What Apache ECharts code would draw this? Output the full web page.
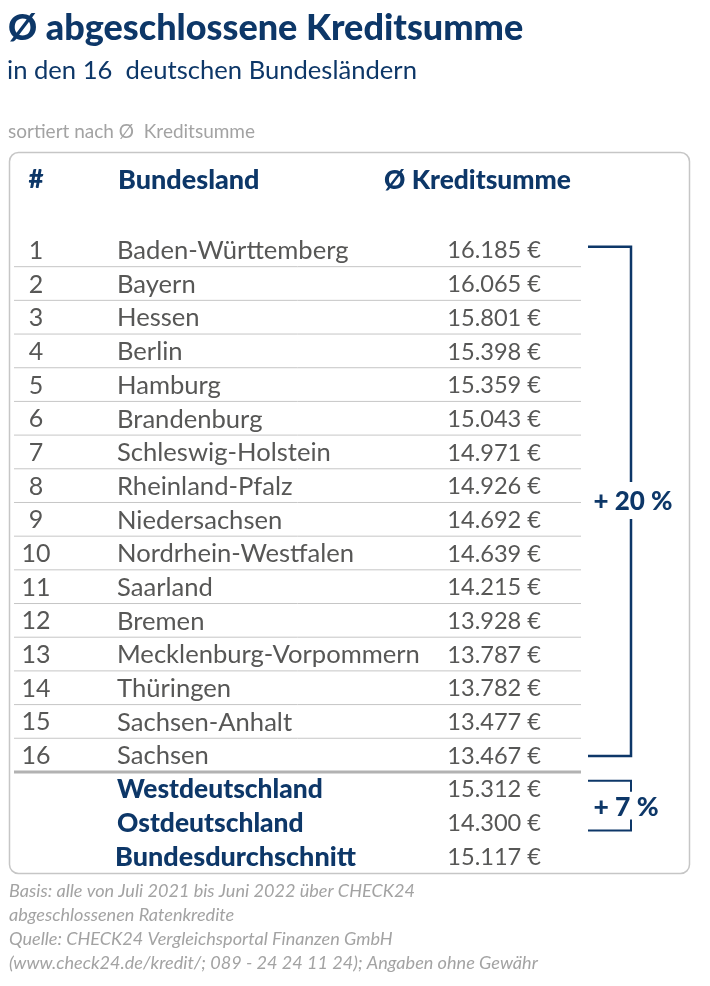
<!DOCTYPE html>
<html>
<head>
<meta charset="utf-8">
<script src="https://cdn.jsdelivr.net/npm/echarts@6/dist/echarts.min.js"></script>
<style>html,body{margin:0;background:#fff}#c{width:710px;height:986px}</style>
</head>
<body>
<div id="c"></div>
<script>
const states = ['Baden-Württemberg', 'Bayern', 'Hessen', 'Berlin', 'Hamburg', 'Brandenburg', 'Schleswig-Holstein', 'Rheinland-Pfalz', 'Niedersachsen', 'Nordrhein-Westfalen', 'Saarland', 'Bremen', 'Mecklenburg-Vorpommern', 'Thüringen', 'Sachsen-Anhalt', 'Sachsen'];
const stateValues = [16185, 16065, 15801, 15398, 15359, 15043, 14971, 14926, 14692, 14639, 14215, 13928, 13787, 13782, 13477, 13467];
const summaries = ['Westdeutschland', 'Ostdeutschland', 'Bundesdurchschnitt'];
const summaryValues = [15312, 14300, 15117];
const footnotes = [
  'Basis: alle von Juli 2021 bis Juni 2022 über CHECK24',
  'abgeschlossenen Ratenkredite',
  'Quelle: CHECK24 Vergleichsportal Finanzen GmbH',
  '(www.check24.de/kredit/; 089 - 24 24 11 24); Angaben ohne Gewähr',
];

const NAVY = '#0d3768';
const GRAY = '#575756';
const LIGHT = '#a3a3a3';
const FONT = 'Lato';

const rows = states.concat(summaries);
const money = (v) => v.toLocaleString('de-DE') + ' €';

function text(x, y, str, size, weight, fill, align, style) {
  return {
    type: 'text', x, y, silent: true,
    style: {
      text: str, fill, textAlign: align || 'left', textVerticalAlign: 'middle',
      font: `${style || 'normal'} ${weight} ${size}px ${FONT}`,
    },
  };
}

const graphic = [
  { type: 'rect', shape: { x: 9.5, y: 152.5, width: 680, height: 721, r: 9 }, style: { fill: 'none', stroke: '#c6c6c6', lineWidth: 1.5 }, silent: true, z: -1 },
  text(8, 28, 'Ø abgeschlossene Kreditsumme', 36, 900, NAVY),
  text(7, 71, 'in den 16  deutschen Bundesländern', 25.6, 400, NAVY),
  text(8, 132, 'sortiert nach Ø  Kreditsumme', 19, 400, LIGHT),
  text(36, 180, '#', 26, 900, NAVY, 'center'),
  text(118, 180, 'Bundesland', 27, 900, NAVY),
  text(384, 180, 'Ø Kreditsumme', 26.4, 900, NAVY),
  text(633, 502, '+ 20 %', 26, 900, NAVY, 'center'),
  text(626, 807, '+ 7 %', 26.5, 900, NAVY, 'center'),
].concat(footnotes.map((f, i) => text(9, 891 + i * 24, f, 18.1, 400, LIGHT, 'left', 'italic')));

// rules under each row, the one below row 16 is heavier
function ruleItem(params, api) {
  const i = params.dataIndex;
  const c = api.coord([14, i]);
  const y = c[1] + api.size([0, 1])[1] / 2;
  const heavy = i === states.length - 1;
  return {
    type: 'line',
    shape: { x1: 14, y1: y, x2: api.coord([581, i])[0], y2: y },
    style: { stroke: heavy ? '#b2b2b2' : '#c6c6c6', lineWidth: heavy ? 3 : 1 },
  };
}

function bracketItem(params, api) {
  const big = params.dataIndex === 0;
  const a = api.coord([api.value(0), api.value(1)]);
  const b = api.coord([api.value(2), api.value(3)]);
  const style = { stroke: NAVY, lineWidth: big ? 2.5 : 2, fill: 'none' };
  const line = (pts) => ({ type: 'polyline', shape: { points: pts }, style });
  if (big) {
    return { type: 'group', children: [
      line([[a[0], a[1] - 3], [b[0], a[1] - 3], [b[0], 482]]),
      line([[b[0], 519], [b[0], b[1] + 1], [a[0], b[1] + 1]]),
    ] };
  }
  return { type: 'group', children: [
    line([[a[0], a[1] - 8], [b[0], a[1] - 8], [b[0], a[1] + 3]]),
    line([[b[0], b[1] - 3], [b[0], b[1] + 8], [a[0], b[1] + 8]]),
  ] };
}

const labelSeries = (data, position) => ({
  type: 'scatter', symbolSize: 0, silent: true, data,
  itemStyle: { opacity: 1 },
  label: { show: true, position, distance: 0, offset: [0, 1], fontFamily: FONT, fontSize: 25.6, color: GRAY },
});

const chart = echarts.init(document.getElementById('c'), null, { renderer: 'canvas' });
chart.setOption({
  animation: false,
  backgroundColor: '#fff',
  grid: { left: 0, top: 233, width: 710, height: 640 },
  xAxis: { type: 'value', min: 0, max: 710, show: false },
  yAxis: { type: 'category', data: rows, inverse: true, show: false },
  graphic,
  series: [
    {
      type: 'custom', silent: true, renderItem: ruleItem, encode: { x: 0, y: 1 },
      data: states.map((s) => [14, s]),
    },
    {
      type: 'custom', silent: true, renderItem: bracketItem, encode: { x: [0, 2], y: [1, 3] },
      data: [[588, 0, 631, states.length - 1], [588, states.length, 631, states.length + 1]],
    },
    labelSeries(states.map((s, i) => ({ value: [36, s], label: { formatter: String(i + 1), align: 'center', fontSize: 25 } })), 'inside'),
    labelSeries(rows.map((r, i) => ({
      value: [i === rows.length - 1 ? 115 : 117, r],
      label: i < states.length
        ? { formatter: r }
        : { formatter: r, color: NAVY, fontWeight: 900, fontSize: i === rows.length - 1 ? 27 : 26.4 },
    })), 'right'),
    labelSeries(stateValues.concat(summaryValues).map((v, i) => ({
      value: [541, rows[i]],
      label: { formatter: money(v), fontSize: 23.6 },
    })), 'left'),
  ],
});
</script>
</body>
</html>
